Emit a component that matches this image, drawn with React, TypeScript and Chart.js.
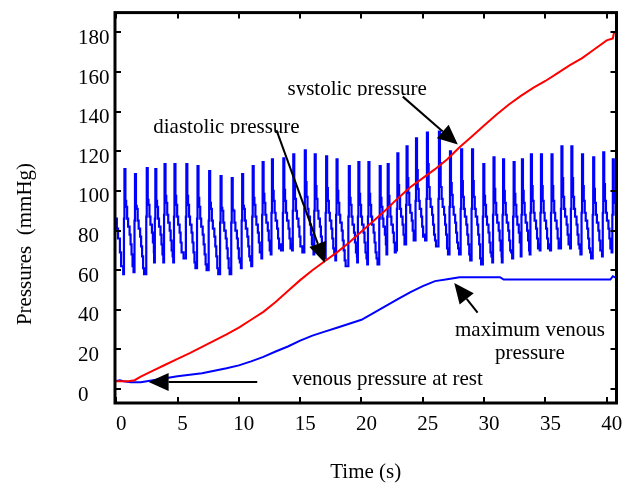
import React, { useEffect, useRef } from "react";
import { Chart, registerables } from "chart.js";

Chart.register(...registerables);

const FONT = "'Liberation Serif', 'DejaVu Serif', 'Times New Roman', serif";

const xTickValues = [0, 5, 10, 15, 20, 25, 30, 35, 40];
const yTickValues = [0, 20, 40, 60, 80, 100, 120, 140, 160, 180];
const X_MIN = -0.1;
const X_MAX = 40.8;
const Y_MIN = -7;
const Y_MAX = 190;

// systolic pressure (red)
const systolicTime = [-0.1, 1.0, 1.5, 2, 3, 4, 5, 6, 7, 8, 9, 10, 11, 12, 13, 14, 15, 16, 17, 18, 19, 20, 21, 22, 23, 24, 25, 26, 27, 28, 29, 30, 31, 32, 33, 34, 35, 36, 37, 38, 39, 40, 40.5, 40.6, 40.8];
const systolicPressure = [4, 4, 4.5, 6.3, 9.3, 12.3, 15.3, 18.2, 21.3, 24.5, 27.6, 31, 35, 39, 44, 49.5, 55, 60, 64.5, 69, 74, 79.5, 85, 90.5, 96.5, 102, 106.5, 111, 116, 122, 127.5, 133, 138.5, 143.5, 148, 152, 155.5, 159.5, 163.5, 167, 171.5, 176, 177, 180, 180];

// venous pressure (blue, smooth)
const venousTime = [-0.1, 0.3, 0.6, 1.2, 2, 3, 4, 5, 6, 7, 8, 9, 10, 11, 12, 13, 14, 15, 16, 17, 18, 19, 20, 21, 22, 23, 24, 25, 26, 27, 28, 31.3, 31.6, 36, 40.3, 40.5, 40.8];
const venousPressure = [4, 4.5, 4, 3.5, 3.5, 4.5, 5.5, 6.5, 7.2, 8, 9.3, 10.5, 12, 14, 16.3, 19, 21.5, 24.5, 27, 29, 31, 33, 35, 38.5, 42, 45.5, 49, 52, 54.5, 55.5, 56.5, 56.5, 55.3, 55.3, 55.3, 57, 56];

// arterial pressure (blue, pulsatile) – trace start, then one entry per beat
const leadTime = [-0.1, 0.05, 0.15, 0.3, 0.4];
const leadPressure = [86, 81, 76, 69, 62];
const beatPeakTime = [0.67, 1.53, 2.49, 3.19, 3.94, 4.75, 5.72, 6.63, 7.58, 8.51, 9.42, 10.27, 11.13, 11.94, 12.7, 13.63, 14.44, 15.38, 16.19, 17.12, 17.97, 18.97, 19.75, 20.57, 21.49, 22.14, 22.93, 23.68, 24.45, 25.34, 26.32, 27.22, 28.13, 29.02, 29.94, 30.77, 31.55, 32.41, 33.09, 33.82, 34.64, 35.5, 36.31, 37.12, 37.99, 38.9, 39.72, 40.5];
const beatPeak = [111, 108.5, 111.5, 111, 113.5, 113.5, 113.5, 112.5, 110, 107.5, 106.5, 108.5, 112.5, 114.5, 116, 116.5, 118.5, 120.5, 118.5, 117.5, 116, 112.5, 114.5, 114.5, 112.5, 113.5, 119, 122.5, 126.5, 129.5, 130, 120, 121, 121, 113.5, 117, 116, 114.5, 116, 118.5, 118.5, 118.5, 122.5, 122.5, 118.5, 117, 119.5, 116];
const beatNotch = [88, 87, 89, 88, 90, 89, 89, 88, 87, 86, 86, 87, 89, 90, 91, 91, 92, 93, 92, 91, 90, 89, 89, 89, 88, 89, 93, 95, 97, 98, 98, 94, 93, 93, 89, 90, 90, 89, 90, 91, 91, 91, 93, 93, 91, 90, 91, 90];
const beatTrough = [58, 59, 58, 64, 64, 64, 66, 61, 60, 58, 58, 61, 62, 66, 68, 70, 70, 69, 68, 66, 65, 62, 64, 63, 63, 68, 70, 73, 75, 75, 72, 68, 68, 65, 63, 64, 64, 66, 67, 68, 70, 70, 71, 71, 68, 66, 67, 69];

// annotations (data coordinates)
const labels = [
  { text: "systolic pressure", x: 13.97, y: 148.6, align: "left", clipBottom: true },
  { text: "diastolic pressure", x: 3.02, y: 129.4, align: "left", clipBottom: true },
  { text: "maximum venous", x: 33.74, y: 26.9, align: "center", clipBottom: false },
  { text: "pressure", x: 33.74, y: 15.2, align: "center", clipBottom: false },
  { text: "venous pressure at rest", x: 14.35, y: 2.0, align: "left", clipBottom: false },
];
const arrows = [
  { x1: 23.37, y1: 147.6, x2: 27.86, y2: 123.4 },
  { x1: 13.07, y1: 130.7, x2: 17.0, y2: 63.8 },
  { x1: 29.47, y1: 38.6, x2: 27.57, y2: 53.5 },
  { x1: 11.5, y1: 3.6, x2: 2.64, y2: 3.6 },
];

function buildArterial() {
  const pts: { x: number; y: number }[] = [];
  for (let i = 0; i < leadTime.length; i++) pts.push({ x: leadTime[i], y: leadPressure[i] });
  for (let i = 0; i < beatPeakTime.length; i++) {
    const tp = beatPeakTime[i];
    const P = beatPeak[i];
    const N = beatNotch[i];
    const T = beatTrough[i];
    const nextOnset = i + 1 < beatPeakTime.length ? beatPeakTime[i + 1] - 0.1 : 99;
    const nextT = i + 1 < beatTrough.length ? beatTrough[i + 1] : T;
    const seq = [
      [tp - 0.1, T],
      [tp - 0.04, N - 2],
      [tp, P],
      [tp + 0.08, P - 16],
      [tp + 0.14, N + 4],
      [tp + 0.22, N - 2],
      [tp + 0.3, N - 6],
      [tp + 0.42, N - 10],
      [tp + 0.5, N - 15],
      [tp + 0.58, N - 20],
      [tp + 0.66, nextT + 3],
      [tp + 0.74, nextT],
    ];
    for (const [x, y] of seq) {
      if (x < nextOnset - 0.01) pts.push({ x, y });
    }
  }
  return pts;
}

function zip(xs: number[], ys: number[]) {
  return xs.map((x, i) => ({ x, y: ys[i] }));
}

const framePlugin = {
  id: "frameAndNotes",
  afterDatasetsDraw(chart: any) {
    const { ctx, chartArea, scales } = chart;
    const { left, right, top, bottom } = chartArea;
    const xs = scales.x;
    const ys = scales.y;
    ctx.save();
    ctx.strokeStyle = "#000";
    ctx.fillStyle = "#000";
    ctx.lineWidth = 3;
    ctx.strokeRect(left, top, right - left, bottom - top);
    ctx.lineWidth = 2;
    ctx.beginPath();
    for (const v of xTickValues) {
      const px = Math.round(xs.getPixelForValue(v));
      ctx.moveTo(px, bottom);
      ctx.lineTo(px, bottom - 6);
      ctx.moveTo(px, top);
      ctx.lineTo(px, top + 6);
    }
    for (const v of yTickValues) {
      const py = Math.round(ys.getPixelForValue(v));
      ctx.moveTo(left, py);
      ctx.lineTo(left + 6, py);
      ctx.moveTo(right, py);
      ctx.lineTo(right - 6, py);
    }
    ctx.stroke();

    for (const a of arrows) {
      const x1 = xs.getPixelForValue(a.x1);
      const y1 = ys.getPixelForValue(a.y1);
      const x2 = xs.getPixelForValue(a.x2);
      const y2 = ys.getPixelForValue(a.y2);
      const ang = Math.atan2(y2 - y1, x2 - x1);
      const L = 20;
      const W = 9;
      const bx = x2 - L * Math.cos(ang);
      const by = y2 - L * Math.sin(ang);
      ctx.lineWidth = 2;
      ctx.beginPath();
      ctx.moveTo(x1, y1);
      ctx.lineTo(bx, by);
      ctx.stroke();
      ctx.beginPath();
      ctx.moveTo(x2, y2);
      ctx.lineTo(bx + W * Math.sin(ang), by - W * Math.cos(ang));
      ctx.lineTo(bx - W * Math.sin(ang), by + W * Math.cos(ang));
      ctx.closePath();
      ctx.fill();
    }

    ctx.font = `21px ${FONT}`;
    ctx.textBaseline = "alphabetic";
    for (const l of labels) {
      const px = xs.getPixelForValue(l.x);
      const py = ys.getPixelForValue(l.y);
      ctx.textAlign = l.align as CanvasTextAlign;
      ctx.save();
      if (l.clipBottom) {
        ctx.beginPath();
        ctx.rect(0, py - 40, 634, 41);
        ctx.clip();
      }
      ctx.fillText(l.text, px, py);
      ctx.restore();
    }

    ctx.textAlign = "center";
    ctx.fillText("Time (s)", (left + right) / 2, 478);
    ctx.save();
    ctx.translate(25, 244);
    ctx.rotate(-Math.PI / 2);
    ctx.textBaseline = "middle";
    ctx.fillText("Pressures  (mmHg)", 0, 0);
    ctx.restore();
    ctx.restore();
  },
};

export default function App() {
  const ref = useRef<HTMLCanvasElement | null>(null);
  useEffect(() => {
    if (!ref.current) return;
    const chart = new Chart(ref.current, {
      type: "line",
      data: {
        datasets: [
          {
            label: "systolic pressure",
            data: zip(systolicTime, systolicPressure),
            borderColor: "#ff0000",
            borderWidth: 2,
            pointRadius: 0,
            tension: 0,
          },
          {
            label: "venous pressure",
            data: zip(venousTime, venousPressure),
            borderColor: "#0000ff",
            borderWidth: 2,
            pointRadius: 0,
            tension: 0,
          },
          {
            label: "arterial pressure",
            data: buildArterial(),
            borderColor: "#0000ff",
            borderWidth: 2.2,
            pointRadius: 0,
            tension: 0,
            stepped: true,
          },
        ],
      },
      options: {
        animation: false,
        responsive: false,
        devicePixelRatio: 1,
        layout: { padding: { left: 78, right: 17.5, top: 8, bottom: 0 } },
        plugins: { legend: { display: false }, tooltip: { enabled: false } },
        scales: {
          x: {
            type: "linear",
            min: X_MIN,
            max: X_MAX,
            grid: { display: false, drawTicks: false },
            border: { display: false },
            ticks: {
              padding: 9,
              labelOffset: 5,
              color: "#000",
              maxRotation: 0,
              autoSkip: false,
              font: { size: 21, family: FONT },
              callback: (v: any) => String(v),
            },
            afterBuildTicks: (s: any) => {
              s.ticks = xTickValues.map((v) => ({ value: v }));
            },
            afterFit: (s: any) => {
              s.height = 81;
            },
          },
          y: {
            type: "linear",
            min: Y_MIN,
            max: Y_MAX,
            grid: { display: false, drawTicks: false },
            border: { display: false },
            ticks: {
              padding: 0,
              crossAlign: "far",
              labelOffset: 6,
              color: "#000",
              autoSkip: false,
              font: { size: 21, family: FONT },
              callback: (v: any) => String(v),
            },
            afterBuildTicks: (s: any) => {
              s.ticks = yTickValues.map((v) => ({ value: v }));
            },
            afterFit: (s: any) => {
              s.width = 37;
            },
          },
        },
      },
      plugins: [framePlugin],
    } as any);
    return () => chart.destroy();
  }, []);
  return (
    <div style={{ position: "absolute", left: 0, top: 0, width: 634, height: 484, background: "#fff" }}>
      <canvas ref={ref} width={634} height={484} style={{ display: "block", width: 634, height: 484 }} />
    </div>
  );
}
